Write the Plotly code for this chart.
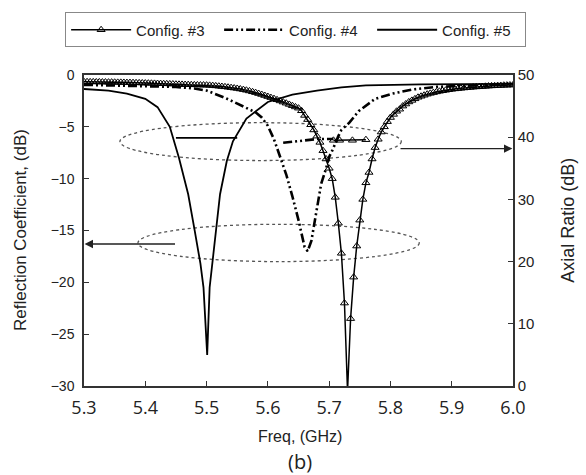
import numpy as np
import plotly.graph_objects as go

# ---------------- data ----------------
# Config. #3 reflection coefficient (dB), sampled every 5 MHz from 5.300 to 6.000 GHz
freq3 = np.round(np.arange(5.300, 6.0001, 0.005), 3)
s11_3 = [
    -0.65, -0.65, -0.66, -0.66, -0.67, -0.67, -0.68, -0.68, -0.69, -0.69,
    -0.70, -0.71, -0.71, -0.72, -0.73, -0.73, -0.74, -0.75, -0.76, -0.77,
    -0.78, -0.79, -0.80, -0.81, -0.82, -0.83, -0.84, -0.85, -0.86, -0.87,
    -0.89, -0.90, -0.91, -0.92, -0.93, -0.94, -0.95, -0.96, -0.97, -0.97,
    -0.98, -1.00, -1.02, -1.05, -1.08, -1.11, -1.14, -1.18, -1.22, -1.26,
    -1.30, -1.35, -1.41, -1.47, -1.54, -1.62, -1.70, -1.79, -1.88, -1.98,
    -2.08, -2.18, -2.28, -2.39, -2.50, -2.61, -2.72, -2.84, -2.96, -3.08,
    -3.20, -3.45, -3.90, -4.30, -4.80, -5.30, -5.90, -6.50, -7.30, -8.10,
    -9.00, -10.0, -11.8, -14.3, -17.2, -22.0, -30.5, -23.5, -19.5, -16.5,
    -14.0, -12.0, -10.4, -9.4, -8.1, -7.0, -6.2, -5.5, -5.0, -4.5,
    -4.1, -3.8, -3.5, -3.3, -3.0, -2.8, -2.6, -2.45, -2.3, -2.15,
    -2.05, -1.95, -1.85, -1.77, -1.70, -1.63, -1.57, -1.52, -1.47, -1.42,
    -1.38, -1.34, -1.31, -1.28, -1.25, -1.22, -1.20, -1.17, -1.15, -1.13,
    -1.11, -1.09, -1.07, -1.05, -1.04, -1.02, -1.01, -0.99, -0.98, -0.97,
    -0.96,
]

# Config. #4 reflection coefficient (dB)
freq4 = [5.30, 5.35, 5.40, 5.45, 5.48, 5.50, 5.53, 5.56, 5.58, 5.59, 5.60, 5.61,
         5.62, 5.63, 5.64, 5.65, 5.66, 5.665, 5.671, 5.676, 5.681, 5.687, 5.695,
         5.70, 5.705, 5.71, 5.715, 5.72, 5.733, 5.748, 5.775, 5.803, 5.836,
         5.875, 5.93, 6.00]
s11_4 = [-0.95, -1.0, -1.05, -1.15, -1.3, -1.5, -2.2, -3.0, -3.6, -4.1, -4.9, -6.2,
         -8.0, -9.6, -11.7, -14.0, -16.6, -17.0, -16.0, -14.4, -12.5, -10.5, -9.0,
         -7.9, -7.3, -6.5, -5.9, -5.3, -4.6, -3.5, -2.3, -1.8, -1.4,
         -1.15, -1.0, -0.85]

# Config. #5 reflection coefficient (dB)
freq5 = [5.30, 5.34, 5.37, 5.40, 5.42, 5.44, 5.455, 5.47, 5.48, 5.49, 5.495, 5.501,
         5.505, 5.51, 5.516, 5.522, 5.533, 5.543, 5.565, 5.60, 5.64, 5.68, 5.72,
         5.76, 5.85, 6.00]
s11_5 = [-1.35, -1.5, -1.8, -2.3, -3.1, -5.0, -8.0, -11.5, -14.8, -18.2, -20.5, -27.0,
         -20.5, -17.8, -14.8, -11.5, -8.3, -6.4, -4.2, -2.6, -1.9, -1.5, -1.2,
         -1.0, -0.9, -0.85]

# Axial ratio (dB), right axis
ar_freq3 = [5.707, 5.717, 5.738, 5.760]
ar3 = [39.5, 39.5, 39.5, 39.6]
ar_freq4 = [5.625, 5.650, 5.680, 5.707]
ar4 = [39.1, 39.4, 39.7, 39.7]
ar_freq5 = [5.450, 5.500, 5.550]
ar5 = [39.9, 39.9, 39.9]

x_ticks = [5.3, 5.4, 5.5, 5.6, 5.7, 5.8, 5.9, 6.0]
x_tick_text = ["5.3", "5.4", "5.5", "5.6", "5.7", "5.8", "5.9", "6.0"]
y_ticks = [0, -5, -10, -15, -20, -25, -30]
y2_ticks = [0, 10, 20, 30, 40, 50]

# ---------------- figure ----------------
fig = go.Figure()

dashdot = "9px,3px,2px,3px,2px,3px"
tri = dict(symbol="triangle-up-open", size=7, color="black", line=dict(width=1))

fig.add_trace(go.Scatter(x=freq5, y=s11_5, mode="lines", name="Config. #5",
                         line=dict(color="black", width=1.8), legendrank=3))
fig.add_trace(go.Scatter(x=ar_freq5, y=ar5, mode="lines", yaxis="y2", showlegend=False,
                         line=dict(color="black", width=1.8)))
fig.add_trace(go.Scatter(x=freq4, y=s11_4, mode="lines", name="Config. #4",
                         line=dict(color="black", width=2.6, dash=dashdot), legendrank=2))
fig.add_trace(go.Scatter(x=ar_freq4, y=ar4, mode="lines", yaxis="y2", showlegend=False,
                         line=dict(color="black", width=2.6, dash=dashdot)))
fig.add_trace(go.Scatter(x=freq3, y=s11_3, mode="lines+markers", name="Config. #3",
                         line=dict(color="black", width=1.5), marker=tri, legendrank=1))
fig.add_trace(go.Scatter(x=ar_freq3, y=ar3, mode="lines+markers", yaxis="y2", showlegend=False,
                         line=dict(color="black", width=1.5), marker=tri))

# ellipses + arrows
ell = dict(color="#555555", width=1.3, dash="dot")
fig.add_shape(type="circle", xref="x", yref="y", x0=5.3586, x1=5.8177, y0=-4.6, y1=-8.25, line=ell, layer="below")
fig.add_shape(type="circle", xref="x", yref="y", x0=5.388, x1=5.847, y0=-14.4, y1=-18.0, line=ell, layer="below")
fig.add_annotation(x=5.999, y=-7.1, ax=5.814, ay=-7.1, xref="x", yref="y", axref="x", ayref="y",
                   showarrow=True, arrowhead=2, arrowsize=1.2, arrowwidth=1.4, arrowcolor="#222", text="")
fig.add_annotation(x=5.301, y=-16.3, ax=5.451, ay=-16.3, xref="x", yref="y", axref="x", ayref="y",
                   showarrow=True, arrowhead=2, arrowsize=1.2, arrowwidth=1.4, arrowcolor="#222", text="")

# titles
fig.add_annotation(x=0.503, y=-0.163, xref="paper", yref="paper", yanchor="middle",
                   text="Freq, (GHz)", showarrow=False,
                   font=dict(family="Liberation Sans, Arial", size=16, color="#222"))
fig.add_annotation(x=0.503, y=-0.243, xref="paper", yref="paper", yanchor="middle",
                   text="(b)", showarrow=False,
                   font=dict(family="Open Sans", size=20, color="#222"))
fig.add_annotation(x=-0.148, y=0.5, xref="paper", yref="paper", xanchor="center", yanchor="middle",
                   text="Reflection Coefficient, (dB)", textangle=-90, showarrow=False,
                   font=dict(family="Liberation Sans, Arial", size=17, color="#222"))
fig.add_annotation(x=1.128, y=0.534, xref="paper", yref="paper", xanchor="center", yanchor="middle",
                   text="Axial Ratio (dB)", textangle=-90, showarrow=False,
                   font=dict(family="Liberation Sans, Arial", size=18, color="#222"))

axis_line = dict(showline=True, linecolor="#333", linewidth=1.5, showgrid=False, zeroline=False,
                 ticks="inside", ticklen=5, tickcolor="#333", tickwidth=1.2)

fig.update_layout(
    width=586, height=475,
    margin=dict(l=84, r=73, t=73, b=89),
    paper_bgcolor="white", plot_bgcolor="white",
    xaxis=dict(range=[5.3, 6.0], tickvals=x_ticks, ticktext=x_tick_text, mirror=True,
               tickfont=dict(family="Open Sans", size=18, color="#222"), ticklabelstandoff=5,
               **axis_line),
    yaxis=dict(range=[-30, 0], tickvals=y_ticks, ticklabelstandoff=5,
               tickfont=dict(family="Liberation Sans, Arial", size=14, color="#222"),
               **axis_line),
    yaxis2=dict(range=[0, 50], tickvals=y2_ticks, overlaying="y", side="right",
                tickfont=dict(family="Liberation Sans, Arial", size=15, color="#222"),
                **axis_line),
    showlegend=True,
    legend=dict(orientation="h", x=-0.044, y=1.201, xanchor="left", yanchor="top",
                bordercolor="#888", borderwidth=1, bgcolor="white",
                font=dict(family="Liberation Sans, Arial", size=15, color="#222"),
                itemwidth=60, entrywidth=78, traceorder="normal"),
)

fig.write_html("out.html")
